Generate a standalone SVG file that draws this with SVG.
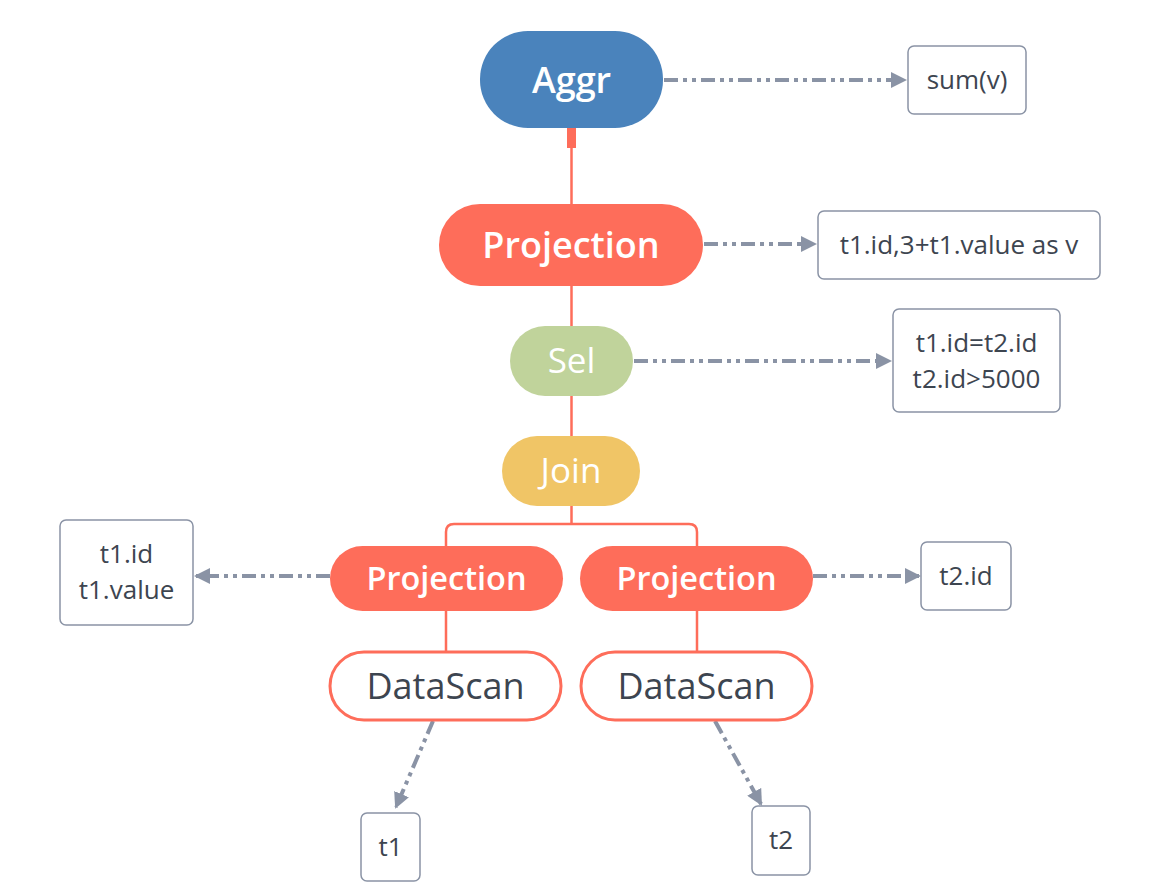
<svg xmlns="http://www.w3.org/2000/svg" width="1155" height="892" viewBox="0 0 1155 892">
<defs>
<marker id="arr" markerWidth="16" markerHeight="16" refX="14" refY="8" orient="auto" markerUnits="userSpaceOnUse">
<path d="M0,0 L16,8 L0,16 Z" fill="#8a93a5"/>
</marker>
<style>
.tree{stroke:#fe6d5a;stroke-width:2.5;fill:none}
.dash{stroke:#8a93a5;stroke-width:4;fill:none;stroke-dasharray:14 5 4 5 4 5;marker-end:url(#arr)}
.box{fill:#fff;stroke:#8a93a5;stroke-width:1.5}
.bt{font-family:"Open Sans","Liberation Sans",sans-serif;font-size:26px;fill:#3d4550;text-anchor:middle}
.nt{font-family:"Open Sans","Liberation Sans",sans-serif;fill:#fff;text-anchor:middle}
.ds{fill:#fff;stroke:#fe6d5a;stroke-width:3}
.dt{font-family:"Open Sans","Liberation Sans",sans-serif;font-size:36px;fill:#3d4550;text-anchor:middle}
</style>
</defs>
<rect width="1155" height="892" fill="#fff"/>
<g id="connectors">
<rect x="567" y="128" width="9" height="20" fill="#fe6d5a"/>
<path class="tree" d="M571.5,148 V205"/>
<path class="tree" d="M571.5,286 V327"/>
<path class="tree" d="M571.5,396 V437"/>
<path class="tree" d="M571.5,506 V524 M446,546 V532 Q446,524 454,524 H689 Q697,524 697,532 V546"/>
<path class="tree" d="M446,611 V653 M697,611 V653"/>
<path class="dash" d="M664,80 H905"/>
<path class="dash" d="M704,244 H815"/>
<path class="dash" d="M634,361 H890"/>
<path class="dash" d="M330,576 H196"/>
<path class="dash" d="M813,576 H919"/>
<path class="dash" d="M433,721 L396,807"/>
<path class="dash" d="M715,721 L761,804"/>
</g>
<g id="aggr">
<rect x="480" y="31" width="183" height="97" rx="48" fill="#4a83bc"/>
<text class="nt" x="571.5" y="93" font-size="36" font-weight="600">Aggr</text>
</g>
<g id="sumv">
<rect class="box" x="908" y="46" width="118" height="68" rx="6"/>
<text class="bt" x="967" y="89">sum(v)</text>
</g>
<g id="proj-top">
<rect x="439" y="204" width="264" height="82" rx="41" fill="#fe6d5a"/>
<text class="nt" x="571" y="258" font-size="36" font-weight="600">Projection</text>
</g>
<g id="proj-top-cols">
<rect class="box" x="818" y="211" width="282" height="68" rx="6"/>
<text class="bt" x="959" y="254">t1.id,3+t1.value as v</text>
</g>
<g id="sel">
<rect x="510" y="326" width="123" height="70" rx="35" fill="#c0d39b"/>
<text class="nt" x="571.5" y="373" font-size="35">Sel</text>
</g>
<g id="sel-cond">
<rect class="box" x="893" y="309" width="167" height="103" rx="6"/>
<text class="bt" x="976.5" y="352">t1.id=t2.id</text>
<text class="bt" x="976.5" y="388">t2.id&gt;5000</text>
</g>
<g id="join">
<rect x="502" y="436" width="138" height="70" rx="35" fill="#f0c566"/>
<text class="nt" x="571" y="483" font-size="35">Join</text>
</g>
<g id="proj-left">
<rect x="330" y="546" width="233" height="65" rx="32.5" fill="#fe6d5a"/>
<text class="nt" x="446.5" y="590" font-size="32.5" font-weight="600">Projection</text>
</g>
<g id="proj-left-cols">
<rect class="box" x="60" y="520" width="133" height="105" rx="6"/>
<text class="bt" x="126.5" y="563">t1.id</text>
<text class="bt" x="126.5" y="599">t1.value</text>
</g>
<g id="proj-right">
<rect x="580" y="546" width="233" height="65" rx="32.5" fill="#fe6d5a"/>
<text class="nt" x="696.5" y="590" font-size="32.5" font-weight="600">Projection</text>
</g>
<g id="proj-right-cols">
<rect class="box" x="921" y="542" width="90" height="68" rx="6"/>
<text class="bt" x="966" y="585">t2.id</text>
</g>
<g id="scan-left">
<rect class="ds" x="330" y="652" width="231" height="68" rx="34"/>
<text class="dt" x="445.5" y="699">DataScan</text>
</g>
<g id="scan-right">
<rect class="ds" x="581" y="652" width="231" height="68" rx="34"/>
<text class="dt" x="696.5" y="699">DataScan</text>
</g>
<g id="t1">
<rect class="box" x="361" y="813" width="59" height="68" rx="6"/>
<text class="bt" x="390.5" y="856">t1</text>
</g>
<g id="t2">
<rect class="box" x="752" y="806" width="58" height="69" rx="6"/>
<text class="bt" x="781" y="849">t2</text>
</g>
</svg>
